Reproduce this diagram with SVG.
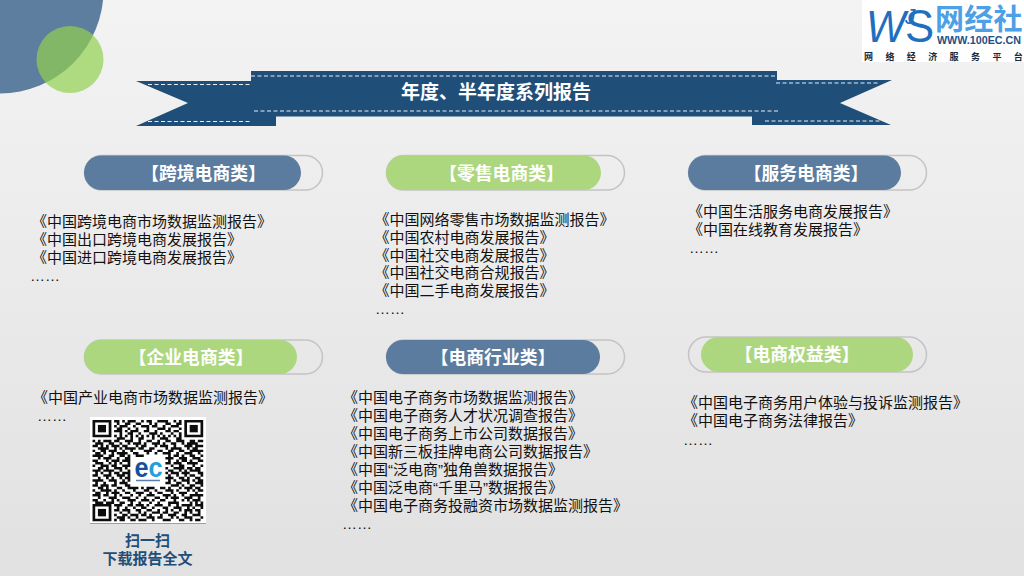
<svg xmlns="http://www.w3.org/2000/svg" width="1024" height="576" viewBox="0 0 1024 576">
<style>
.body{font-family:"Liberation Sans","Noto Sans CJK SC",sans-serif;font-size:15px;fill:#111}
.head{font-family:"Noto Sans CJK SC",sans-serif;font-size:17.800px;font-weight:700;fill:#fff;text-anchor:middle}
.track{fill:none;stroke:#c4c4c4;stroke-width:1.5}
.blue{fill:#5b7c9e}
.green{fill:#add77f}
.dash{fill:none;stroke:#e8eef4;stroke-width:1;stroke-dasharray:4 2.5}
.cap{font-family:"Liberation Sans","Noto Sans CJK SC",sans-serif;font-size:15px;font-weight:700;fill:#1f4e79;text-anchor:middle}
</style>
<defs>
<linearGradient id="bg" x1="0" y1="0" x2="0" y2="1"><stop offset="0" stop-color="#f3f3f3"/><stop offset="1" stop-color="#e1e1e1"/></linearGradient>
<filter id="soft" x="-5%" y="-5%" width="110%" height="110%"><feGaussianBlur stdDeviation="0.13"/></filter>
<g id="finder"><path d="M0 0h7v7h-7zM1 1v5h5v-5z" fill-rule="evenodd" fill="#111"/><rect x="2" y="2" width="3" height="3" fill="#111"/></g>
</defs>
<rect width="1024" height="576" fill="url(#bg)"/>
<circle cx="0" cy="-10" r="103.500" fill="#5e7e9f"/>
<circle cx="70" cy="59.500" r="33.500" fill="#92d050" fill-opacity="0.7"/>

<g id="logo">
<rect x="862" y="0" width="162" height="62" fill="#fff"/>
<text transform="scale(.95 1)" font-family="Liberation Sans,sans-serif" fill="#1f6fbe"><tspan x="911.600" y="42" font-style="italic" font-size="44">W</tspan><tspan x="952.600" y="24" font-style="italic" font-size="22">J</tspan><tspan x="952.600" y="42" font-size="46">S</tspan></text>
<text x="935" y="30" font-family="Liberation Sans,Noto Sans CJK SC,sans-serif" font-weight="700" font-size="29" letter-spacing="0.300" fill="#4d9fe6">网经社</text>
<text x="937" y="44" font-family="Liberation Sans,sans-serif" font-weight="700" font-size="10.500" textLength="84" lengthAdjust="spacingAndGlyphs" fill="#1d4f86">WWW.100EC.CN</text>
<text x="864 885.400 906.800 928.200 949.600 971 992.400 1013.800" y="60" font-family="Liberation Sans,Noto Sans CJK SC,sans-serif" font-weight="700" font-size="9" fill="#1a2a3a">网络经济服务平台</text>
</g>

<g id="banner">
<path d="M136 81H251V71H777V80H892L840 103L891 125H752V116.500H276V126H136L188 103Z" fill="#1f4e79"/>
<path class="dash" d="M148 84.500H250M148 121.500H250M251 76H777M254 111H780M776 83H880M765 121H880"/>
<text x="496" y="99" font-family="Noto Sans CJK SC,sans-serif" font-size="19" font-weight="700" fill="#fff" text-anchor="middle">年度、半年度系列报告</text>
</g>

<g id="cat-crossborder">
<rect class="track" x="84.500" y="155.500" width="238" height="34.500" rx="17.250"/>
<rect class="blue" x="84" y="155.500" width="217" height="34.500" rx="17.250"/>
<text class="head" x="203.500" y="180">【跨境电商类】</text>
<text class="body"><tspan x="32" y="227">《中国跨境电商市场数据监测报告》</tspan><tspan x="32" y="245">《中国出口跨境电商发展报告》</tspan><tspan x="32" y="263">《中国进口跨境电商发展报告》</tspan><tspan x="30" y="281">……</tspan></text>
</g>
<g id="cat-retail">
<rect class="track" x="386.500" y="155.500" width="238" height="34.500" rx="17.250"/>
<rect class="green" x="386" y="155.500" width="215" height="34.500" rx="17.250"/>
<text class="head" x="501.500" y="180">【零售电商类】</text>
<text class="body"><tspan x="374.500" y="225">《中国网络零售市场数据监测报告》</tspan><tspan x="374.500" y="243">《中国农村电商发展报告》</tspan><tspan x="374.500" y="261">《中国社交电商发展报告》</tspan><tspan x="374.500" y="278">《中国社交电商合规报告》</tspan><tspan x="374.500" y="296">《中国二手电商发展报告》</tspan><tspan x="375" y="314">……</tspan></text>
</g>
<g id="cat-service">
<rect class="track" x="688.500" y="155.500" width="238" height="34.500" rx="17.250"/>
<rect class="blue" x="688" y="155.500" width="213" height="34.500" rx="17.250"/>
<text class="head" x="806" y="180">【服务电商类】</text>
<text class="body"><tspan x="688" y="217">《中国生活服务电商发展报告》</tspan><tspan x="688" y="235">《中国在线教育发展报告》</tspan><tspan x="689" y="253">……</tspan></text>
</g>
<g id="cat-enterprise">
<rect class="track" x="84.500" y="340" width="238" height="34" rx="17"/>
<rect class="green" x="84" y="340" width="213" height="34" rx="17"/>
<text class="head" x="191" y="364">【企业电商类】</text>
<text class="body"><tspan x="33" y="403">《中国产业电商市场数据监测报告》</tspan><tspan x="37" y="421">……</tspan></text>
</g>
<g id="cat-industry">
<rect class="track" x="386.500" y="340" width="238" height="34" rx="17"/>
<rect class="blue" x="386" y="340" width="214" height="34" rx="17"/>
<text class="head" x="493" y="364">【电商行业类】</text>
<text class="body"><tspan x="343" y="403">《中国电子商务市场数据监测报告》</tspan><tspan x="343" y="421">《中国电子商务人才状况调查报告》</tspan><tspan x="343" y="439">《中国电子商务上市公司数据报告》</tspan><tspan x="343" y="457">《中国新三板挂牌电商公司数据报告》</tspan><tspan x="343" y="475">《中国“泛电商”独角兽数据报告》</tspan><tspan x="343" y="493">《中国泛电商“千里马”数据报告》</tspan><tspan x="343" y="511">《中国电子商务投融资市场数据监测报告》</tspan><tspan x="342" y="529">……</tspan></text>
</g>
<g id="cat-rights">
<rect class="track" x="688.500" y="337" width="238" height="35" rx="17.500"/>
<rect class="green" x="701" y="337" width="212" height="35" rx="17.500"/>
<text class="head" x="797" y="361">【电商权益类】</text>
<text class="body"><tspan x="683" y="408">《中国电子商务用户体验与投诉监测报告》</tspan><tspan x="683" y="426">《中国电子商务法律报告》</tspan><tspan x="683" y="445">……</tspan></text>
</g>

<g id="qr">
<rect x="90" y="417" width="116" height="107" fill="#fff"/>
<path d="M90 523.500H206" stroke="#9aa0a6" stroke-width="1"/>
<g transform="translate(92.500 420) scale(2.7 2.47)" filter="url(#soft)">
<use href="#finder"/><use href="#finder" x="34"/><use href="#finder" y="34"/>
<path fill="none" stroke="#111" stroke-width="1" d="M8 .5h2M11 .5h1M13 .5h3M18 .5h1M20 .5h2M24 .5h4M30 .5h1M32 .5h1
M9 1.500h1M12 1.500h2M16 1.500h2M21 1.500h1M23 1.500h1M27 1.500h2M31 1.500h2
M8 2.500h1M10 2.500h3M15 2.500h1M18 2.500h3M22 2.500h2M26 2.500h1M29 2.500h3
M9 3.500h2M13 3.500h1M16 3.500h1M20 3.500h1M24 3.500h3M28 3.500h1M32 3.500h1
M8 4.500h3M12 4.500h1M14 4.500h3M19 4.500h2M23 4.500h1M27 4.500h2M30 4.500h2
M10 5.500h1M13 5.500h2M17 5.500h1M21 5.500h3M25 5.500h1M29 5.500h1M32 5.500h1
M8 6.500h1M10 6.500h1M12 6.500h1M14 6.500h1M16 6.500h1M18 6.500h1M20 6.500h1M22 6.500h1M24 6.500h1M26 6.500h1M28 6.500h1M30 6.500h1M32 6.500h1
M9 7.500h3M14 7.500h1M17 7.500h2M22 7.500h1M25 7.500h3M31 7.500h2
M0 8.500h1M2 8.500h1M4 8.500h3M8 8.500h2M12 8.500h3M17 8.500h1M20 8.500h2M24 8.500h1M27 8.500h2M31 8.500h3M36 8.500h2M39 8.500h2
M1 9.500h3M6 9.500h2M10 9.500h1M13 9.500h1M15 9.500h3M19 9.500h1M22 9.500h3M26 9.500h1M29 9.500h2M33 9.500h1M35 9.500h4
M0 10.500h2M3 10.500h1M5 10.500h1M7 10.500h3M11 10.500h2M16 10.500h1M18 10.500h2M23 10.500h1M25 10.500h3M30 10.500h1M34 10.500h3M38 10.500h3
M2 11.500h4M8 11.500h1M10 11.500h1M12 11.500h4M17 11.500h2M21 11.500h2M27 11.500h1M29 11.500h4M35 11.500h1M37 11.500h2
M0 12.500h1M3 12.500h2M6 12.500h3M11 12.500h1M14 12.500h1M19 12.500h3M24 12.500h2M28 12.500h2M32 12.500h2M36 12.500h5
M1 13.500h2M4 13.500h1M7 13.500h1M9 13.500h4M15 13.500h2M20 13.500h1M23 13.500h1M26 13.500h3M31 13.500h1M34 13.500h3M39 13.500h1
M0 14.500h4M6 14.500h2M10 14.500h2M13 14.500h1M16 14.500h3M28 14.500h1M30 14.500h2M33 14.500h1M36 14.500h2M40 14.500h1
M2 15.500h1M4 15.500h3M9 15.500h1M12 15.500h2M27 15.500h3M32 15.500h3M37 15.500h3
M0 16.500h2M5 16.500h1M7 16.500h3M11 16.500h3M28 16.500h1M31 16.500h1M33 16.500h2M36 16.500h1M39 16.500h2
M1 17.500h3M6 17.500h1M8 17.500h1M10 17.500h1M13 17.500h1M27 17.500h2M30 17.500h3M35 17.500h4
M0 18.500h1M3 18.500h3M7 18.500h2M11 18.500h3M29 18.500h1M32 18.500h2M37 18.500h1M40 18.500h1
M2 19.500h2M5 19.500h1M8 19.500h3M12 19.500h1M27 19.500h1M30 19.500h4M35 19.500h2M38 19.500h2
M0 20.500h3M4 20.500h4M10 20.500h1M13 20.500h1M28 20.500h2M32 20.500h1M34 20.500h1M36 20.500h4
M1 21.500h1M3 21.500h1M6 21.500h1M8 21.500h2M11 21.500h3M27 21.500h1M29 21.500h3M33 21.500h3M39 21.500h2
M0 22.500h2M4 22.500h3M9 22.500h3M13 22.500h1M28 22.500h1M31 22.500h1M34 22.500h1M36 22.500h2M40 22.500h1
M2 23.500h1M5 23.500h1M7 23.500h1M10 23.500h1M12 23.500h2M27 23.500h3M32 23.500h2M35 23.500h1M38 23.500h2
M0 24.500h4M6 24.500h3M11 24.500h1M13 24.500h1M28 24.500h1M30 24.500h1M33 24.500h3M37 24.500h1M39 24.500h2
M1 25.500h1M4 25.500h1M8 25.500h1M10 25.500h3M27 25.500h2M31 25.500h2M35 25.500h1M38 25.500h3
M0 26.500h2M3 26.500h3M7 26.500h2M12 26.500h2M29 26.500h3M33 26.500h1M36 26.500h2M40 26.500h1
M2 27.500h2M5 27.500h1M9 27.500h2M13 27.500h4M18 27.500h1M20 27.500h3M25 27.500h2M28 27.500h1M32 27.500h1M34 27.500h3M38 27.500h2
M0 28.500h1M3 28.500h4M8 28.500h1M11 28.500h1M15 28.500h1M19 28.500h2M23 28.500h1M27 28.500h3M31 28.500h1M35 28.500h1M37 28.500h1M39 28.500h2
M1 29.500h2M5 29.500h1M7 29.500h3M12 29.500h2M16 29.500h3M21 29.500h1M24 29.500h2M29 29.500h1M32 29.500h3M38 29.500h1
M0 30.500h3M4 30.500h2M8 30.500h1M10 30.500h1M14 30.500h1M17 30.500h1M20 30.500h3M26 30.500h3M30 30.500h1M33 30.500h1M36 30.500h5
M2 31.500h1M6 31.500h3M11 31.500h3M16 31.500h1M19 31.500h1M23 31.500h2M27 31.500h1M29 31.500h3M34 31.500h3M39 31.500h1
M0 32.500h2M4 32.500h1M7 32.500h1M9 32.500h1M13 32.500h3M18 32.500h3M22 32.500h1M25 32.500h2M30 32.500h1M33 32.500h1M35 32.500h1M37 32.500h3
M1 33.500h3M5 33.500h3M10 33.500h2M14 33.500h1M17 33.500h1M21 33.500h1M24 33.500h1M28 33.500h4M36 33.500h1M38 33.500h1M40 33.500h1
M8 34.500h3M13 34.500h2M16 34.500h3M20 34.500h1M23 34.500h3M28 34.500h1M31 34.500h1M33 34.500h4M38 34.500h3
M9 35.500h1M12 35.500h1M15 35.500h1M18 35.500h2M22 35.500h1M26 35.500h2M30 35.500h3M35 35.500h1M37 35.500h1M40 35.500h1
M8 36.500h2M11 36.500h3M16 36.500h2M20 36.500h2M24 36.500h1M27 36.500h1M29 36.500h1M32 36.500h1M34 36.500h3M38 36.500h2
M10 37.500h1M13 37.500h1M17 37.500h1M19 37.500h1M22 37.500h3M26 37.500h2M30 37.500h2M34 37.500h1M36 37.500h1M39 37.500h1
M8 38.500h1M11 38.500h2M14 38.500h3M18 38.500h2M21 38.500h1M25 38.500h1M28 38.500h3M33 38.500h2M37 38.500h3
M9 39.500h3M13 39.500h1M16 39.500h1M20 39.500h3M24 39.500h2M29 39.500h1M31 39.500h1M34 39.500h3M40 39.500h1
M8 40.500h1M10 40.500h2M14 40.500h2M17 40.500h3M22 40.500h1M26 40.500h3M32 40.500h2M36 40.500h1M38 40.500h2"/>
</g>
<rect x="133" y="457" width="30" height="27" rx="3" fill="#fff"/>
<text x="134.500" y="477" font-family="Liberation Sans,sans-serif" font-weight="700" font-size="27" textLength="28" lengthAdjust="spacingAndGlyphs" fill="#14509c">e<tspan fill="#1fa0dc">c</tspan></text>
<path d="M136 480.500H160" stroke="#5c7fa8" stroke-width="1.500"/>
<text class="cap"><tspan x="147.500" y="546">扫一扫</tspan><tspan x="147.500" y="564">下载报告全文</tspan></text>
</g>
</svg>
